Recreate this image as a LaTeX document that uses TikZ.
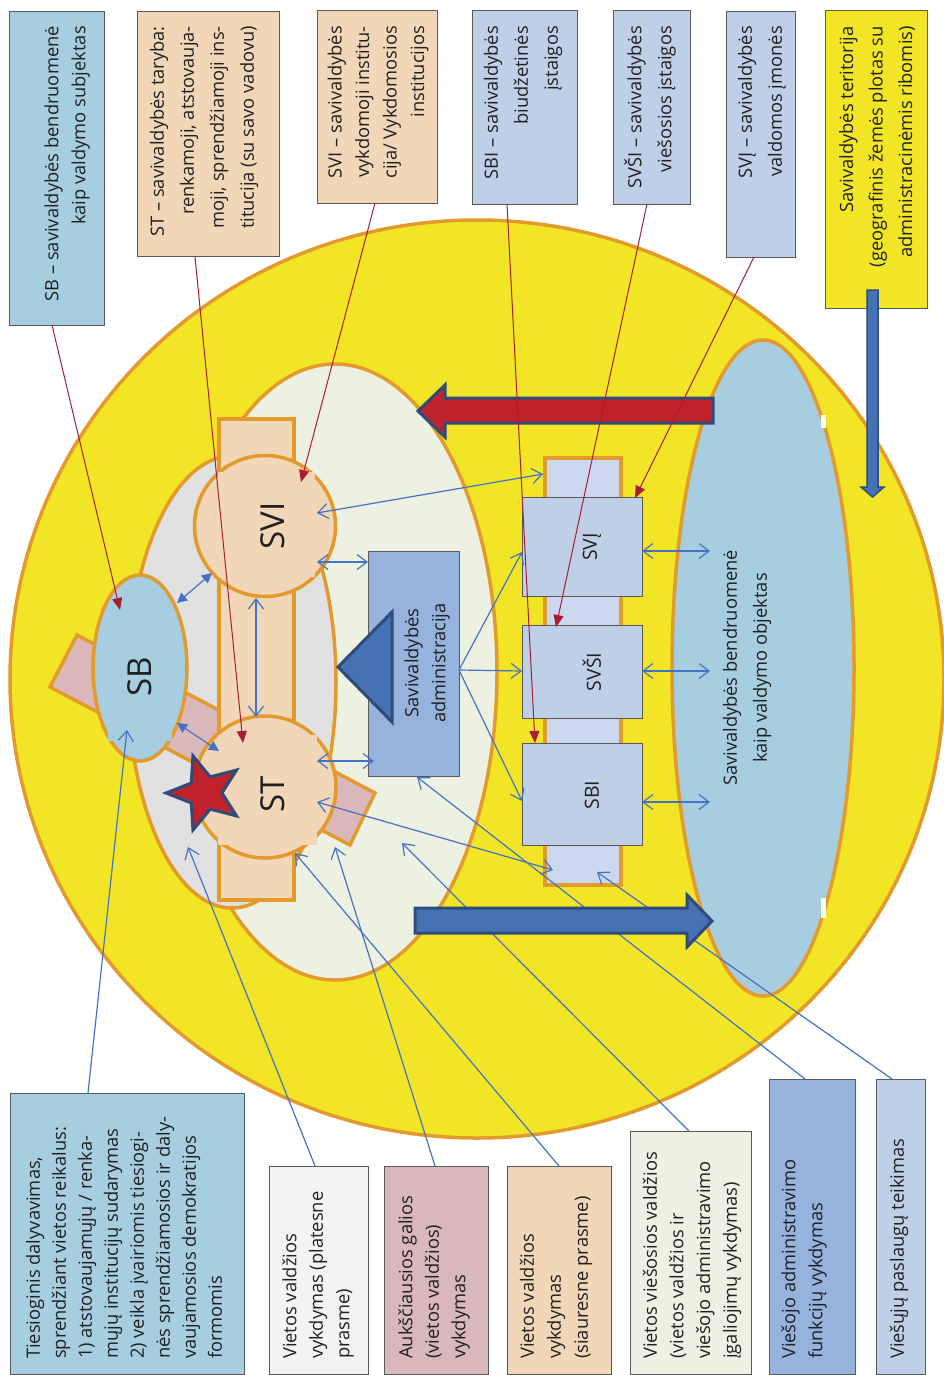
\documentclass[tikz,border=0pt]{standalone}
\usepackage{fontspec}
\setmainfont{Open Sans}
\usetikzlibrary{shapes.geometric,arrows.meta}
\definecolor{yel}{HTML}{F1E526}
\definecolor{orb}{HTML}{E29A2C}
\definecolor{pale}{HTML}{EDF1E2}
\definecolor{grayfill}{HTML}{E1E1E1}
\definecolor{peach}{HTML}{F1D6B8}
\definecolor{pinkf}{HTML}{D9B7BB}
\definecolor{sbblue}{HTML}{A6CDE0}
\definecolor{admblue}{HTML}{95B3DD}
\definecolor{boxblue}{HTML}{BFCFE7}
\definecolor{barblue}{HTML}{CBD8F0}
\definecolor{arrblue}{HTML}{4472B4}
\definecolor{navy}{HTML}{2F4B77}
\definecolor{redf}{HTML}{C1232C}
\definecolor{redline}{HTML}{A51E33}
\definecolor{lineblue}{HTML}{4472C4}
\definecolor{boxline}{HTML}{595959}
\definecolor{pgray}{HTML}{F3F3F3}
\definecolor{txt}{HTML}{202020}
\tikzset{
  obarb/.tip={Straight Barb[length=10pt,width=15pt,line width=1.2pt]},
  ftri/.tip={Triangle[length=10pt,width=10pt]},
  rtri/.tip={Triangle[length=12pt,width=10pt]},
  orng/.style={draw=orb, line width=3.5pt},
  cbox/.style={draw=boxline, line width=1.3pt, rectangle, inner sep=0pt, anchor=north west},
  ttext/.style={rotate=90, inner sep=0pt, anchor=east, align=right, text=txt},
  btext/.style={rotate=90, inner sep=0pt, anchor=west, align=left, text=txt},
  fs/.style={font=\fontsize{18.3}{#1}\selectfont},
  rl/.style={draw=redline, line width=1pt, -rtri},
  bl/.style={draw=lineblue, line width=1.2pt},
  blk/.style={line width=3pt, draw=navy, line join=miter},
  big/.style={font=\fontsize{33}{38}\selectfont, rotate=90, text=txt, inner sep=0pt},
  mid/.style={rotate=90, align=center, text=txt, inner sep=0pt},
  lab/.style={rotate=90, text=txt, inner sep=0pt, font=\fontsize{19.5}{22}\selectfont},
}
\begin{document}
\begin{tikzpicture}[x=1pt,y=-1pt]
\useasboundingbox (0,0) rectangle (944,1375);
\fill[white] (0,0) rectangle (944,1375);

% territory and inner areas
\node[ellipse, fill=yel, orng, minimum width=934pt, minimum height=918pt, inner sep=0pt] (terr) at (477,679) {};
\node[ellipse, fill=pale, orng, minimum width=324pt, minimum height=616pt, inner sep=0pt] (pale) at (335,672) {};
\node[ellipse, fill=grayfill, orng, minimum width=208pt, minimum height=452pt, inner sep=0pt] (gray) at (232,682) {};
\filldraw[fill=pinkf, orng, line join=miter] (77,635) -- (375,793) -- (350,845) -- (50,687) -- cycle;
\node[rectangle, fill=peach, orng, minimum width=75pt, minimum height=481pt, inner sep=0pt, anchor=north west] (vbar) at (217,417) {};
\node[circle, fill=peach, orng, minimum size=141pt, inner sep=0pt] (svi) at (265,526) {};
\node[circle, fill=peach, orng, minimum size=142pt, inner sep=0pt] (st) at (265,787) {};
\fill[peach] (218,472) rectangle (315,577);
\fill[peach] (218,735) rectangle (317,845);
\node[ellipse, fill=sbblue, orng, minimum width=94pt, minimum height=186pt, inner sep=0pt] (sb) at (140,668) {};
\fill[sbblue] (108,700) rectangle (172,741);
\node[star, star points=5, star point ratio=2.3, minimum size=78pt, inner sep=0pt, shape border rotate=90, fill=redf, draw=navy, line width=3pt] (star) at (205,793) {};
\node[big] (svil) at (273,526) {SVI};
\node[big] (stl) at (273,794) {ST};
\node[big] (sbl) at (140,677) {SB};

% administration
\node[cbox, fill=admblue, minimum width=91pt, minimum height=225pt] (adm) at (368,551) {};
\filldraw[fill=arrblue, blk] (338,667) -- (392,612) -- (392,722) -- cycle;
\node[mid, fs=27] (admt) at (427,663) {Savivaldybės\\administracija};

% institutions
\node[rectangle, fill=barblue, orng, minimum width=76pt, minimum height=427pt, inner sep=0pt, anchor=north west] (sbar) at (543,456) {};
\node[cbox, fill=boxblue, minimum width=120pt, minimum height=99pt] (svj) at (522,497) {};
\node[cbox, fill=boxblue, minimum width=120pt, minimum height=93pt] (svsi) at (522,625) {};
\node[cbox, fill=boxblue, minimum width=120pt, minimum height=102pt] (sbi) at (522,743) {};
\node[lab] (svjl) at (592,547) {SVĮ};
\node[lab] (svsil) at (592,672) {SVŠI};
\node[lab] (sbil) at (592,795) {SBI};

% community
\node[ellipse, fill=sbblue, orng, minimum width=182pt, minimum height=656pt, inner sep=0pt] (comm) at (763,668) {};
\fill[white] (821,415) rectangle (826,428);
\fill[white] (821,898) rectangle (826,918);
\node[mid, fs=30] (commt) at (747,668) {Savivaldybės bendruomenė\\kaip valdymo objektas};

% top boxes
\node[cbox, fill=sbblue, minimum width=95pt, minimum height=314pt] (sbbox) at (9,11) {};
\node[ttext, fs=27] (sbt) at (67,26) {SB – savivaldybės bendruomenė\\kaip valdymo subjektas};
\node[cbox, fill=peach, minimum width=142pt, minimum height=245pt] (stbox) at (137,11) {};
\node[ttext, fs=30] (stt) at (204,26) {ST – savivaldybės taryba:\\renkamoji, atstovauja-\\moji, sprendžiamoji ins-\\titucija (su savo vadovu)};
\node[cbox, fill=peach, minimum width=120pt, minimum height=193pt] (svibox) at (317,10) {};
\node[ttext, fs=27.5] (svit) at (378,26) {SVI – savivaldybės\\vykdomoji institu-\\cija/ Vykdomosios\\institucijos};
\node[cbox, fill=boxblue, minimum width=105pt, minimum height=194pt] (sbibox) at (472,10) {};
\node[ttext, fs=30] (sbit) at (523,26) {SBI – savivaldybės\\biudžetinės\\įstaigos};
\node[cbox, fill=boxblue, minimum width=77pt, minimum height=194pt] (svsibox) at (613,10) {};
\node[ttext, fs=30] (svsit) at (650,26) {SVŠI – savivaldybės\\viešosios įstaigos};
\node[cbox, fill=boxblue, minimum width=69pt, minimum height=246pt] (svjbox) at (726,11) {};
\node[ttext, fs=30] (svjt) at (762,26) {SVĮ – savivaldybės\\valdomos įmonės};
\node[cbox, fill=yel, minimum width=102pt, minimum height=298pt] (terrbox) at (825,10) {};
\node[ttext, fs=29.5] (terrt) at (877,26) {Savivaldybės teritorija\\(geografinis žemės plotas su\\administracinėmis ribomis)};

% bottom boxes
\node[cbox, fill=sbblue, minimum width=234pt, minimum height=281pt] (tiesbox) at (10,1093) {};
\node[btext, fs=26] (tiest) at (124,1359) {Tiesioginis dalyvavimas,\\sprendžiant vietos reikalus:\\1) atstovaujamųjų / renka-\\mųjų institucijų sudarymas\\2) veikla įvairiomis tiesiogi-\\nės sprendžiamosios ir daly-\\vaujamosios demokratijos\\formomis};
\node[cbox, fill=pgray, minimum width=99pt, minimum height=208pt] (platbox) at (269,1166) {};
\node[btext, fs=26.5] (platt) at (318,1359) {Vietos valdžios\\vykdymas (platesne\\prasme)};
\node[cbox, fill=pinkf, minimum width=104pt, minimum height=208pt] (aukbox) at (384,1166) {};
\node[btext, fs=26.5] (aukt) at (434,1359) {Aukščiausios galios\\(vietos valdžios)\\vykdymas};
\node[cbox, fill=peach, minimum width=104pt, minimum height=208pt] (siaubox) at (507,1166) {};
\node[btext, fs=27] (siaut) at (556,1359) {Vietos valdžios\\vykdymas\\(siauresne prasme)};
\node[cbox, fill=pale, minimum width=121pt, minimum height=243pt] (viesbox) at (630,1131) {};
\node[btext, fs=26.7] (viest) at (692,1359) {Vietos viešosios valdžios\\(vietos valdžios ir\\viešojo administravimo\\įgaliojimų vykdymas)};
\node[cbox, fill=admblue, minimum width=86pt, minimum height=295pt] (admfbox) at (769,1079) {};
\node[btext, fs=27] (admft) at (804,1359) {Viešojo administravimo\\funkcijų vykdymas};
\node[cbox, fill=boxblue, minimum width=49pt, minimum height=295pt] (pasbox) at (876,1079) {};
\node[btext, fs=27] (past) at (899,1359) {Viešųjų paslaugų teikimas};

% connector end points
\coordinate (b1a) at (88,1093);  \coordinate (b1b) at (127,730);
\coordinate (b2a) at (315,1166); \coordinate (b2b) at (188,847);
\coordinate (b3a) at (435,1166); \coordinate (b3b) at (335,847);
\coordinate (b4a) at (559,1166); \coordinate (b4b) at (295,853);
\coordinate (b5a) at (689,1131); \coordinate (b5b) at (402,843);
\coordinate (b6a) at (805,1079); \coordinate (b6b) at (417,777);
\coordinate (b7a) at (892,1079); \coordinate (b7b) at (597,872);
\coordinate (sbsv1) at (177,603); \coordinate (sbsv2) at (212,573);
\coordinate (sbst1) at (177,723); \coordinate (sbst2) at (219,751);
\coordinate (vst1) at (256,598);  \coordinate (vst2) at (256,717);
\coordinate (svib1) at (317,513); \coordinate (svib2) at (543,474);
\coordinate (svia1) at (317,562); \coordinate (svia2) at (368,562);
\coordinate (sta1) at (317,761);  \coordinate (sta2) at (374,761);
\coordinate (stb1) at (317,802);  \coordinate (stb2) at (553,870);
\coordinate (admo) at (459,670);
\coordinate (svjin) at (522,552); \coordinate (svsiin) at (522,671); \coordinate (sbiin) at (522,801);
\coordinate (svjo) at (642,551);  \coordinate (svjc) at (710,551);
\coordinate (svsio) at (642,671); \coordinate (svsic) at (710,671);
\coordinate (sbio) at (642,802);  \coordinate (sbic) at (710,802);

% blue connectors
\draw[bl, -obarb] (b1a) -- (b1b);
\draw[bl, -obarb] (b2a) -- (b2b);
\draw[bl, -obarb] (b3a) -- (b3b);
\draw[bl, -obarb] (b4a) -- (b4b);
\draw[bl, -obarb] (b5a) -- (b5b);
\draw[bl, -obarb] (b6a) -- (b6b);
\draw[bl, -obarb] (b7a) -- (b7b);
\draw[bl, ftri-ftri] (sbsv1) -- (sbsv2);
\draw[bl, ftri-ftri] (sbst1) -- (sbst2);
\draw[bl, obarb-obarb] (vst1) -- (vst2);
\draw[bl, obarb-obarb] (svib1) -- (svib2);
\draw[bl, obarb-obarb] (svia1) -- (svia2);
\draw[bl, obarb-obarb] (sta1) -- (sta2);
\draw[bl, obarb-obarb] (stb1) -- (stb2);
\draw[bl, -obarb] (admo) -- (svjin);
\draw[bl, -obarb] (admo) -- (svsiin);
\draw[bl, -obarb] (admo) -- (sbiin);
\draw[bl, obarb-obarb] (svjo) -- (svjc);
\draw[bl, obarb-obarb] (svsio) -- (svsic);
\draw[bl, obarb-obarb] (sbio) -- (sbic);

% block arrows
\filldraw[fill=redf, blk] (713,398) -- (445,398) -- (445,385) -- (418,411) -- (445,437) -- (445,423) -- (713,423) -- cycle;
\filldraw[fill=arrblue, blk] (415,908) -- (687,908) -- (687,895) -- (712,921) -- (687,947) -- (687,933) -- (415,933) -- cycle;
\filldraw[fill=arrblue, line width=1.5pt, draw=navy, line join=miter] (867,290) -- (878,290) -- (878,487) -- (884,487) -- (872.5,497) -- (861,487) -- (867,487) -- cycle;

% red connectors
\coordinate (r1a) at (52,325);  \coordinate (r1b) at (120,610);
\coordinate (r2a) at (195,257); \coordinate (r2b) at (243,743);
\coordinate (r3a) at (375,203); \coordinate (r3b) at (301,482);
\coordinate (r4a) at (507,204); \coordinate (r4b) at (535,743);
\coordinate (r5a) at (647,204); \coordinate (r5b) at (556,627);
\coordinate (r6a) at (754,257); \coordinate (r6b) at (635,498);
\draw[rl] (r1a) -- (r1b);
\draw[rl] (r2a) -- (r2b);
\draw[rl] (r3a) -- (r3b);
\draw[rl] (r4a) -- (r4b);
\draw[rl] (r5a) -- (r5b);
\draw[rl] (r6a) -- (r6b);
\end{tikzpicture}
\end{document}
